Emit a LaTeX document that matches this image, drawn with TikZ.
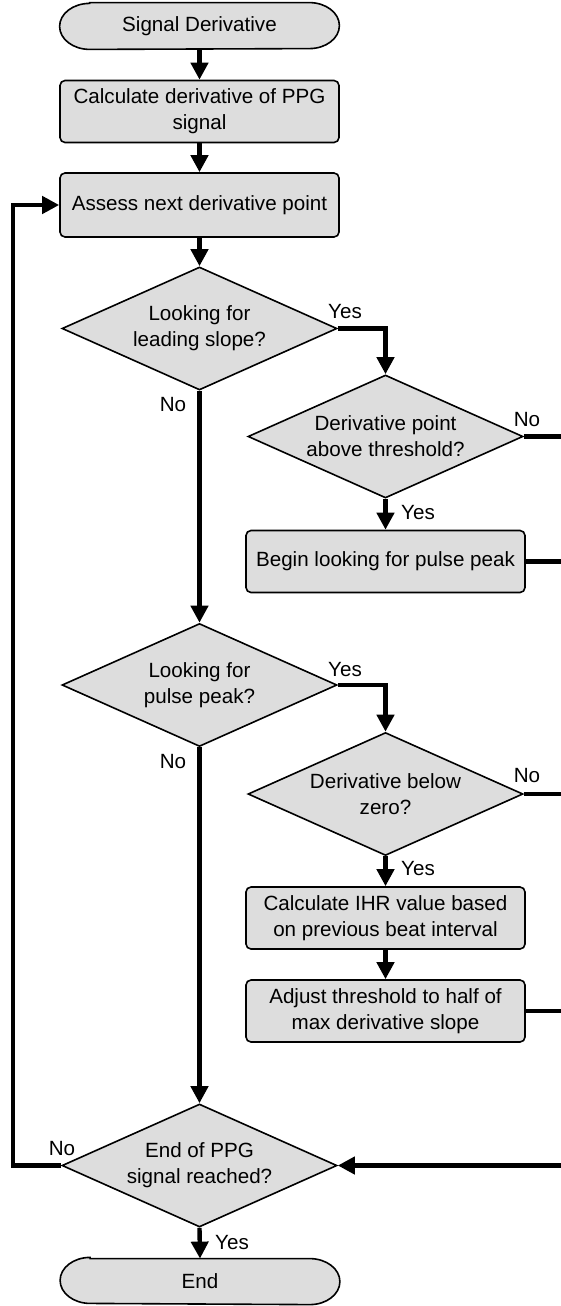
\documentclass[tikz,border=0pt]{standalone}
\usepackage{fontspec}
\setmainfont{Liberation Sans}
\usetikzlibrary{shapes.geometric,arrows.meta,calc,backgrounds}
\definecolor{boxgray}{RGB}{221,221,221}
\begin{document}
\begin{tikzpicture}[x=0.5pt,y=-0.5pt,
 every node/.style={font=\fontsize{10.3pt}{12.9pt}\selectfont, align=center, inner sep=0pt},
 boxnode/.style={draw=black, line width=0.8pt, fill=boxgray, rounded corners=2.5pt, minimum width=139.5pt, minimum height=31pt},
 decision/.style={diamond, draw=black, line width=0.8pt, fill=boxgray, minimum width=137.5pt, minimum height=61.5pt, aspect=2.2},
 terminal/.style={minimum width=139.5pt, minimum height=23pt},
 termline/.style={draw=black, line width=0.8pt, fill=boxgray},
 flow/.style={line width=2.2pt, -{Triangle[length=8.5pt,width=8.5pt]}},
 plainflow/.style={line width=2.2pt},
 lbl/.style={}
]
\useasboundingbox (0,0) rectangle (561,1306);

% nodes
\node[terminal] (start) at (199.5,26) {Signal Derivative};
\node[boxnode] (calc) at (199.5,111.5) {Calculate derivative of PPG\\signal};
\node[boxnode, minimum height=32pt] (assess) at (199.5,205) {Assess next derivative point};
\node[decision] (d1) at (199.5,328.5) {Looking for\\leading slope?};
\node[decision] (d1b) at (385.5,436.5) {Derivative point\\above threshold?};
\node[boxnode] (begin) at (385.5,561.5) {Begin looking for pulse peak};
\node[decision] (d2) at (199.5,685) {Looking for\\pulse peak?};
\node[decision] (d2b) at (385.5,794) {Derivative below\\zero?};
\node[boxnode] (ihr) at (385.5,918) {Calculate IHR value based\\on previous beat interval};
\node[boxnode] (adjust) at (385.5,1011) {Adjust threshold to half of\\max derivative slope};
\node[decision] (d3) at (199.5,1165.5) {End of PPG\\signal reached?};
\node[terminal, minimum height=22pt] (stop) at (200,1281) {End};

\begin{scope}[on background layer]
\foreach \t in {start,stop}{
 \draw[termline] ($(\t.north west)+(30,0)$) -- ($(\t.north east)+(-30,0)$)
   arc[start angle=90,end angle=-90,x radius=15pt,y radius=11.5pt]
   -- ($(\t.south west)+(30,0)$)
   arc[start angle=270,end angle=90,x radius=15pt,y radius=11.5pt] -- cycle;
}
\end{scope}

% right edge coordinates
\coordinate (r1) at (561,436.5);
\coordinate (r2) at (561,561.5);
\coordinate (r3) at (561,794);
\coordinate (r4) at (561,1011);
\coordinate (r5) at (561,1165.5);

% connectors
\draw[flow] (start) -- (calc);
\draw[flow] (calc) -- (assess);
\draw[flow] (assess) -- (d1);
\draw[flow] (d1.east) -| (d1b.north);
\draw[flow] (d1b) -- (begin);
\draw[flow] (d1.south) -- (d2.north);
\draw[flow] (d2.east) -| (d2b.north);
\draw[flow] (d2b) -- (ihr);
\draw[flow] (ihr) -- (adjust);
\draw[flow] (d2.south) -- (d3.north);
\draw[flow] (d3.south) -- (stop.north);
\draw[flow] (d3.west) -- ++(-48,0) |- (assess.west);
\draw[plainflow] (d1b.east) -- (r1);
\draw[plainflow] (begin.east) -- (r2);
\draw[plainflow] (d2b.east) -- (r3);
\draw[plainflow] (adjust.east) -- (r4);
\draw[flow] (r5) -- (d3.east);

% labels
\node[lbl] (y1) at (345,312) {Yes};
\node[lbl] (n1) at (173,405) {No};
\node[lbl] (n1b) at (527,420) {No};
\node[lbl] (y1b) at (418,513) {Yes};
\node[lbl] (y2) at (345,670) {Yes};
\node[lbl] (n2) at (173,762) {No};
\node[lbl] (n2b) at (527,776) {No};
\node[lbl] (y2b) at (418,869) {Yes};
\node[lbl] (n3) at (62,1148) {No};
\node[lbl] (y3) at (232,1242) {Yes};
\end{tikzpicture}
\end{document}
